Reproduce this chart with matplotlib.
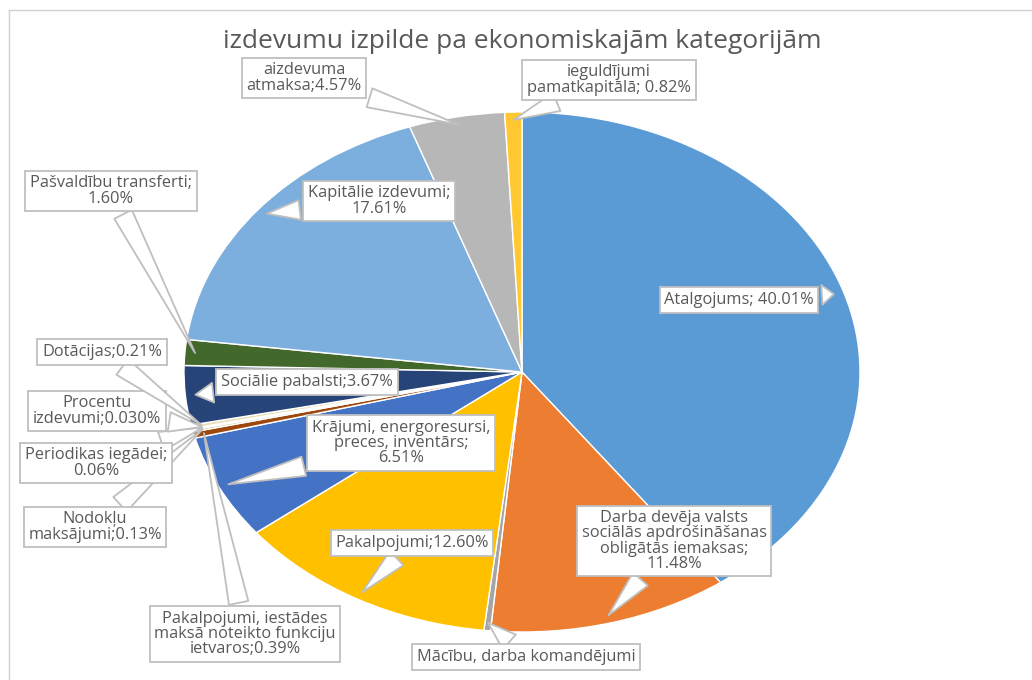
import numpy as np
import matplotlib
matplotlib.use("Agg")
import matplotlib.pyplot as plt
from matplotlib.lines import Line2D

plt.rcParams['font.family'] = ['Open Sans', 'DejaVu Sans']

# slice data, clockwise from 12 o'clock
categories = [
    "Atalgojums; 40.01%",
    "Darba devēja valsts\nsociālās apdrošināšanas\nobligātās iemaksas;\n11.48%",
    "Mācību, darba komandējumi",
    "Pakalpojumi;12.60%",
    "Krājumi, energoresursi,\npreces, inventārs;\n6.51%",
    "Pakalpojumi, iestādes\nmaksā noteikto funkciju\nietvaros;0.39%",
    "Nodokļu\nmaksājumi;0.13%",
    "Periodikas iegādei;\n0.06%",
    "Procentu\nizdevumi;0.030%",
    "Dotācijas;0.21%",
    "Sociālie pabalsti;3.67%",
    "Pašvaldību transferti;\n1.60%",
    "Kapitālie izdevumi;\n17.61%",
    "aizdevuma\natmaksa;4.57%",
    "ieguldījumi\npamatkapitālā; 0.82%",
]
values = [40.01, 11.48, 0.31, 12.60, 6.51, 0.39, 0.13, 0.06, 0.03, 0.21,
          3.67, 1.60, 17.61, 4.57, 0.82]
colors = ["#5B9BD5", "#ED7D31", "#A5A5A5", "#FFC000", "#4472C4", "#9E480E",
          "#D6C28E", "#636363", "#997300", "#E8DDB5", "#264478", "#43682B",
          "#7CAFDD", "#B7B7B7", "#FFC830"]

# label box centres in pixels (x from left, y from top)
label_pos = [(739, 300), (674, 541), (526, 657), (412, 543), (401, 443),
             (245, 634), (95, 527), (96, 463), (97, 411), (102, 352),
             (307, 382), (111, 191), (379, 201), (304, 78), (609, 80)]

W, H = 1032, 680
fig = plt.figure(figsize=(W / 100, H / 100), dpi=100)

# frame lines of the original chart area
fig.add_artist(Line2D([9 / W, 9 / W], [0, 1 - 10 / H], color="#D0D0D0", lw=1))
fig.add_artist(Line2D([9 / W, 1], [1 - 10 / H, 1 - 10 / H], color="#D0D0D0", lw=1))

cx, cy, rx, ry = 522, 372, 338, 260
ax = fig.add_axes([(cx - rx) / W, 1 - (cy + ry) / H, 2 * rx / W, 2 * ry / H])
wedges, _ = ax.pie(values, colors=colors, startangle=90, counterclock=False,
                   wedgeprops=dict(edgecolor="white", linewidth=1))
ax.set_aspect("auto")
ax.set_xlim(-1, 1)
ax.set_ylim(-1, 1)
ax.axis("off")

fig.text(cx / W, 1 - 42 / H, "izdevumu izpilde pa ekonomiskajām kategorijām",
         ha="center", va="center", fontsize=19, color="#595959")

for w, lab, (px, py) in zip(wedges, categories, label_pos):
    mid = np.deg2rad((w.theta1 + w.theta2) / 2)
    tip = (0.97 * np.cos(mid), 0.97 * np.sin(mid))
    ax.annotate(lab, xy=tip, xycoords="data",
                xytext=(px / W, 1 - py / H), textcoords="figure fraction",
                ha="center", va="center", fontsize=11.8, color="#595959",
                linespacing=0.93,
                bbox=dict(boxstyle="square,pad=0.28", fc="white", ec="#BFBFBF", lw=1.3),
                arrowprops=dict(arrowstyle="wedge,tail_width=1.2,shrink_factor=0.5",
                                fc="white", ec="#BFBFBF", lw=1.3, shrinkB=0),
                annotation_clip=False)

fig.savefig("out.png", dpi=100)
